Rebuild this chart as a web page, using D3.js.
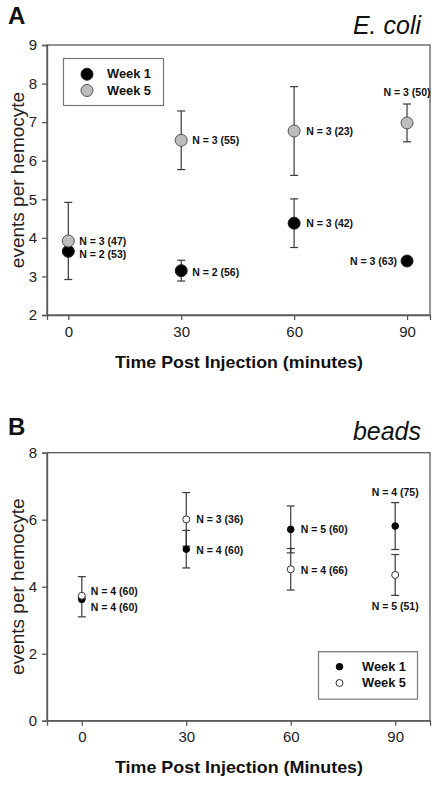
<!DOCTYPE html>
<html><head><meta charset="utf-8">
<script src="https://cdn.jsdelivr.net/npm/d3@7"></script>
<style>body{margin:0;background:#fff}svg{display:block}text{font-family:"Liberation Sans",Arial,sans-serif}</style>
</head><body>
<script>
// ---------- DATA ----------
const times = [0, 30, 60, 90];
const xTickLabels = ["0", "30", "60", "90"];
// Panel A: E. coli
const ecoliWeek1Mean = [3.65, 3.15, 4.38, 3.40];
const ecoliWeek1ErrLow  = [0.0, 0.27, 0.63, 0.04];
const ecoliWeek1ErrHigh = [0.0, 0.27, 0.63, 0.04];
const ecoliWeek1Lbl  = ["N = 2 (53)", "N = 2 (56)", "N = 3 (42)", "N = 3 (63)"];
const ecoliWeek5Mean = [3.92, 6.53, 6.77, 6.98];
const ecoliWeek5ErrLow  = [1.0, 0.76, 1.15, 0.49];
const ecoliWeek5ErrHigh = [1.0, 0.76, 1.15, 0.49];
const ecoliWeek5Lbl  = ["N = 3 (47)", "N = 3 (55)", "N = 3 (23)", "N = 3 (50)"];
const ecoliYTicks = [2, 3, 4, 5, 6, 7, 8, 9];
// Panel B: beads
const beadsWeek1Mean = [3.62, 5.12, 5.71, 5.81];
const beadsWeek1ErrLow  = [0.52, 0.56, 0.70, 0.70];
const beadsWeek1ErrHigh = [0.08, 0.56, 0.70, 0.70];
const beadsWeek1Lbl  = ["N = 4 (60)", "N = 4 (60)", "N = 5 (60)", "N = 4 (75)"];
const beadsWeek5Mean = [3.73, 6.01, 4.52, 4.35];
const beadsWeek5ErrLow  = [0.08, 0.80, 0.62, 0.61];
const beadsWeek5ErrHigh = [0.57, 0.80, 0.62, 0.61];
const beadsWeek5Lbl  = ["N = 4 (60)", "N = 3 (36)", "N = 4 (66)", "N = 5 (51)"];
const beadsYTicks = [0, 2, 4, 6, 8];
const seriesNames = ["Week 1", "Week 5"];

// ---------- LAYOUT ----------
const W = 438, H = 787;
const svg = d3.select("body").append("svg").attr("width", W).attr("height", H);
const axisColor = "#5a5a5a", errColor = "#3a3a3a";

function panel(cfg) {
  const g = svg.append("g");
  const x = d3.scaleLinear().domain(cfg.xDomain).range([47, 430]);
  const y = d3.scaleLinear().domain(cfg.yDomain).range(cfg.yRange);
  const [yb, yt] = cfg.yRange;

  g.append("rect").attr("x", 47).attr("y", yt).attr("width", 383).attr("height", yb - yt)
    .attr("fill", "none").attr("stroke", axisColor).attr("stroke-width", 1.3);

  const ya = g.append("g").attr("transform", "translate(47,0)")
    .call(d3.axisLeft(y).tickValues(cfg.yTicks).tickSizeOuter(0).tickSize(5).tickPadding(5).tickFormat(d3.format("d")));
  const xa = g.append("g").attr("transform", `translate(0,${yb})`)
    .call(d3.axisBottom(x).tickValues(times).tickSizeOuter(0).tickSize(5).tickPadding(6).tickFormat((d, i) => xTickLabels[i]));
  [ya, xa].forEach(a => {
    a.select(".domain").attr("stroke", axisColor).attr("stroke-width", 1.3);
    a.selectAll(".tick line").attr("stroke", axisColor).attr("stroke-width", 1.3);
    a.selectAll(".tick text").attr("fill", "#222").style("font-size", "15px").style("font-family", "Liberation Sans, Arial, sans-serif");
  });

  g.append("text").attr("x", 8).attr("y", cfg.letterY).text(cfg.letter)
    .style("font-size", "24px").style("font-weight", "bold").attr("fill", "#111");
  g.append("text").attr("x", 421).attr("y", cfg.nameY).attr("text-anchor", "end").text(cfg.name)
    .style("font-size", "25px").style("font-style", "italic").attr("fill", "#111");
  g.append("text").attr("transform", `translate(23.5,${(yb + yt) / 2}) rotate(-90)`).attr("text-anchor", "middle")
    .text("events per hemocyte").style("font-size", "19px").attr("fill", "#222");
  g.append("text").attr("x", 239).attr("y", cfg.xTitleY).attr("text-anchor", "middle")
    .attr("textLength", 248).attr("lengthAdjust", "spacingAndGlyphs")
    .text(cfg.xTitle).style("font-size", "17px").style("font-weight", "bold").attr("fill", "#111");

  cfg.series.forEach(s => {
    const pts = times.map((t, i) => ({ t, m: s.mean[i], lo: s.lo[i], hi: s.hi[i], lbl: s.lbl[i], place: s.place[i] }));
    const eg = g.append("g");
    pts.filter(p => p.lo > 0 || p.hi > 0).forEach(p => {
      const cx = x(p.t);
      eg.append("line").attr("x1", cx).attr("x2", cx).attr("y1", y(p.m - p.lo)).attr("y2", y(p.m + p.hi))
        .attr("stroke", errColor).attr("stroke-width", 1.2);
      [p.m - p.lo, p.m + p.hi].forEach(v => eg.append("line").attr("x1", cx - 4).attr("x2", cx + 4)
        .attr("y1", y(v)).attr("y2", y(v)).attr("stroke", errColor).attr("stroke-width", 1.2));
    });
    s.group = pts;
  });
  cfg.series.forEach(s => {
    g.append("g").selectAll("circle").data(s.group).join("circle")
      .attr("cx", p => x(p.t)).attr("cy", p => y(p.m)).attr("r", s.r)
      .attr("fill", s.fill).attr("stroke", s.stroke).attr("stroke-width", 1);
    g.append("g").selectAll("text").data(s.group).join("text")
      .attr("x", p => x(p.t) + p.place[0]).attr("y", p => y(p.m) + p.place[1])
      .attr("text-anchor", p => p.place[2]).attr("dominant-baseline", "central")
      .text(p => p.lbl).style("font-size", "10.5px").style("font-weight", "bold").attr("fill", "#111");
  });

  const L = cfg.legend;
  g.append("rect").attr("x", L.x).attr("y", L.y).attr("width", L.w).attr("height", L.h)
    .attr("fill", "#fff").attr("stroke", "#777").attr("stroke-width", 1.2);
  cfg.series.forEach((s, i) => {
    const yy = L.y + L.row0 + i * 16.3;
    g.append("circle").attr("cx", L.x + L.mx).attr("cy", yy).attr("r", s.r).attr("fill", s.fill).attr("stroke", s.stroke);
    g.append("text").attr("x", L.x + L.tx).attr("y", yy).attr("dominant-baseline", "central")
      .attr("textLength", 44).attr("lengthAdjust", "spacingAndGlyphs")
      .text(seriesNames[i]).style("font-size", "12.5px").style("font-weight", "bold").attr("fill", "#111");
  });
}

// label placement: [dx, dy, anchor]
panel({
  letter: "A", letterY: 24, name: "E. coli", nameY: 34,
  xTitle: "Time Post Injection (minutes)", xTitleY: 368,
  xDomain: [-5.66, 96.1], yDomain: [2, 9], yRange: [315, 45], yTicks: ecoliYTicks,
  legend: { x: 63.5, y: 58.5, w: 100, h: 47, row0: 15.7, mx: 23.5, tx: 43.5 },
  series: [
    { mean: ecoliWeek1Mean, lo: ecoliWeek1ErrLow, hi: ecoliWeek1ErrHigh, lbl: ecoliWeek1Lbl, r: 6, fill: "#000", stroke: "#222",
      place: [[11, 3, "start"], [11, 1, "start"], [12, 0, "start"], [-10, 0, "end"]] },
    { mean: ecoliWeek5Mean, lo: ecoliWeek5ErrLow, hi: ecoliWeek5ErrHigh, lbl: ecoliWeek5Lbl, r: 6, fill: "#bdbdbd", stroke: "#555",
      place: [[11, 0, "start"], [11, 0, "start"], [12, 0, "start"], [0, -31, "middle"]] }
  ]
});
panel({
  letter: "B", letterY: 435, name: "beads", nameY: 440,
  xTitle: "Time Post Injection (Minutes)", xTitleY: 773,
  xDomain: [-10, 100], yDomain: [0, 8], yRange: [720.7, 452.7], yTicks: beadsYTicks,
  legend: { x: 318.5, y: 651.7, w: 99, h: 47.5, row0: 15, mx: 21, tx: 43.5 },
  series: [
    { mean: beadsWeek1Mean, lo: beadsWeek1ErrLow, hi: beadsWeek1ErrHigh, lbl: beadsWeek1Lbl, r: 3.3, fill: "#000", stroke: "#000",
      place: [[9, 8, "start"], [10, 1, "start"], [10, 0, "start"], [0, -34, "middle"]] },
    { mean: beadsWeek5Mean, lo: beadsWeek5ErrLow, hi: beadsWeek5ErrHigh, lbl: beadsWeek5Lbl, r: 3.5, fill: "#fff", stroke: "#333",
      place: [[9, -5, "start"], [10, 0, "start"], [10, 1, "start"], [0, 31, "middle"]] }
  ]
});
</script>
</body></html>
